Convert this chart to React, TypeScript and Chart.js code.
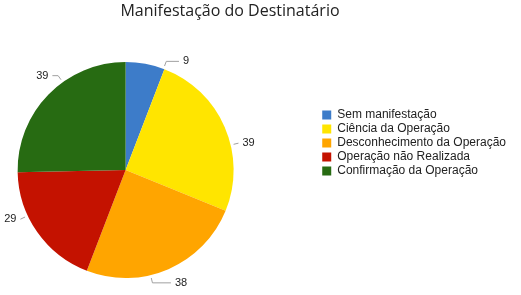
import React, { useEffect, useRef } from 'react';
import { Chart, registerables } from 'chart.js';

Chart.register(...registerables);

const chartTitle = 'Manifestação do Destinatário';
const categories = [
  'Sem manifestação',
  'Ciência da Operação',
  'Desconhecimento da Operação',
  'Operação não Realizada',
  'Confirmação da Operação',
];
const values = [9, 39, 38, 29, 39];
const colors = ['#3d7cc9', '#ffe500', '#ffa500', '#c41200', '#276b12'];

const leaderLabels = {
  id: 'leaderLabels',
  afterDatasetsDraw(chart: any) {
    const ctx = chart.ctx;
    const meta = chart.getDatasetMeta(0);
    const data = chart.data.datasets[0].data;
    ctx.save();
    ctx.font = '11px Arial, "Liberation Sans", sans-serif';
    ctx.textBaseline = 'middle';
    meta.data.forEach((arc: any, i: number) => {
      const p = arc.getProps(['x', 'y', 'startAngle', 'endAngle', 'outerRadius'], true);
      const r = p.outerRadius;
      const a = (p.startAngle + p.endAngle) / 2 + (10 * Math.PI) / 180;
      const cos = Math.cos(a);
      const sin = Math.sin(a);
      const x0 = p.x + (r + 3) * cos;
      const y0 = p.y + (r + 3) * sin;
      const x1 = p.x + (r + 8) * cos;
      const y1 = p.y + (r + 8) * sin;
      const side = cos >= 0 ? 1 : -1;
      // label anchors lie on an ellipse around the pie
      const A = r + 11;
      const B = r + 16;
      const dy = y1 - p.y;
      const k = Math.max(1 - (dy * dy) / (B * B), 0);
      const textX0 = p.x + side * A * Math.sqrt(k);
      let lineEnd = textX0 - side * 4;
      if ((lineEnd - x1) * side < 0) lineEnd = x1;
      const textX = lineEnd + side * 4;
      ctx.strokeStyle = '#a0a0a0';
      ctx.lineWidth = 1;
      ctx.beginPath();
      ctx.moveTo(x0, y0);
      ctx.lineTo(x1, y1);
      ctx.lineTo(lineEnd, y1);
      ctx.stroke();
      ctx.fillStyle = '#222222';
      ctx.textAlign = side > 0 ? 'left' : 'right';
      ctx.fillText(String(data[i]), textX, y1);
    });
    ctx.restore();
  },
};

// Google-style placement: pie sits left of the plot area's centre, title a little left of centre
const layoutTweak = {
  id: 'layoutTweak',
  afterLayout(chart: any) {
    const ca = chart.chartArea;
    ca.left -= 69;
    ca.width = ca.right - ca.left;
    const t = chart.titleBlock;
    if (t) {
      t.left -= 28;
      t.right -= 28;
    }
  },
};

export default function App() {
  const ref = useRef<HTMLCanvasElement | null>(null);
  useEffect(() => {
    if (!ref.current) return;
    const chart = new Chart(ref.current, {
      type: 'pie',
      data: {
        labels: categories,
        datasets: [
          {
            data: values,
            backgroundColor: colors,
            borderWidth: 0,
            radius: 108,
          } as any,
        ],
      },
      options: {
        responsive: false,
        animation: false,
        layout: { padding: { left: 0, right: 5, top: 0, bottom: 9 } },
        plugins: {
          title: {
            display: true,
            text: chartTitle,
            color: '#222222',
            font: { family: "'Open Sans', sans-serif", size: 16, weight: 'normal' },
            padding: { top: 1.4, bottom: 33.4 },
          },
          legend: {
            position: 'right',
            align: 'center',
            labels: {
              boxWidth: 9,
              boxHeight: 9,
              padding: 2,
              color: '#222222',
              font: { family: 'Arial, "Liberation Sans", sans-serif', size: 12 },
            },
          },
          tooltip: { enabled: false },
        },
      } as any,
      plugins: [leaderLabels, layoutTweak],
    });
    return () => chart.destroy();
  }, []);
  return (
    <div style={{ position: 'fixed', left: 0, top: 0, width: 521, height: 295, background: '#fff' }}>
      <canvas ref={ref} width={521} height={295} style={{ display: 'block' }} />
    </div>
  );
}
